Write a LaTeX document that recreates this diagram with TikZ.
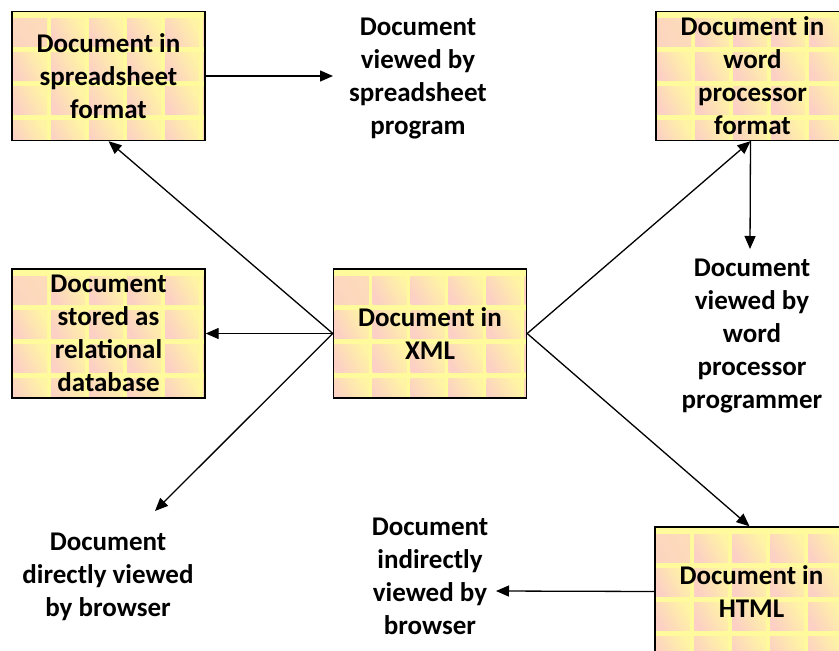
\documentclass[tikz,border=0pt]{standalone}
\usepackage{fontspec}
\setmainfont{Carlito}
\usetikzlibrary{arrows.meta}
\definecolor{tileyel}{HTML}{FFF4A4}
\definecolor{tilepink}{HTML}{FCD0C4}
\definecolor{stripyel}{HTML}{FFFA9C}
\tikzset{
  docbox/.style={draw=black, line width=1.4pt, fill=stripyel,
    minimum width=193pt, minimum height=129pt, inner sep=0pt,
    align=center, font=\bfseries\fontsize{27}{33}\selectfont,
    path picture={
      \foreach \i in {0,...,5}{
        \foreach \j in {0,...,4}{
          \shade[left color=tilepink, right color=tileyel, shading angle=120]
            ([xshift=\i*38pt+1pt, yshift=-\j*34pt-7pt]path picture bounding box.north west)
            rectangle ++(34pt,-28pt);
        }
      }
    }},
  txt/.style={align=center, inner sep=0pt, font=\bfseries\fontsize{27}{33}\selectfont},
  arr/.style={line width=1.3pt, -{Triangle[length=13pt,width=11pt]}}
}
\begin{document}
\begin{tikzpicture}[x=1pt,y=-1pt]
\useasboundingbox (0,0) rectangle (839,651);
\clip (0,0) rectangle (839,651);
% boxes
\node[docbox] (ss) at (108.5,76) {Document in\\spreadsheet\\format};
\node[docbox] (wp) at (752.5,76) {Document in\\word\\processor\\format};
\node[docbox] (xml) at (430,333.5) {Document in\\XML};
\node[docbox] (rel) at (108.5,333.5) {Document\\stored as\\relational\\database};
\node[docbox] (html) at (751.5,591.5) {Document in\\HTML};
% texts
\node[txt] (ssv) at (418,79) {Document\\viewed by\\spreadsheet\\program};
\node[txt] (wpv) at (752,336) {Document\\viewed by\\word\\processor\\programmer};
\node[txt] (dir) at (108,577) {Document\\directly viewed\\by browser};
\node[txt] (ind) at (430,576) {Document\\indirectly\\viewed by\\browser};
\coordinate (ssvw) at (333,76);
\coordinate (wpvn) at (750,249);
\coordinate (dirn) at (155,511);
\coordinate (inde) at (496,591);
% connectors
\draw[arr] (ss.east) -- (ssvw);
\draw[arr] (xml.west) -- (ss.south);
\draw[arr] (xml.west) -- (rel.east);
\draw[arr] (xml.west) -- (dirn);
\draw[arr] (xml.east) -- ([xshift=-2pt]wp.south);
\draw[arr] (xml.east) -- ([xshift=-2pt]html.north);
\draw[arr] ([xshift=-2pt]wp.south) -- (wpvn);
\draw[arr] (html.west) -- (inde);
\end{tikzpicture}
\end{document}
